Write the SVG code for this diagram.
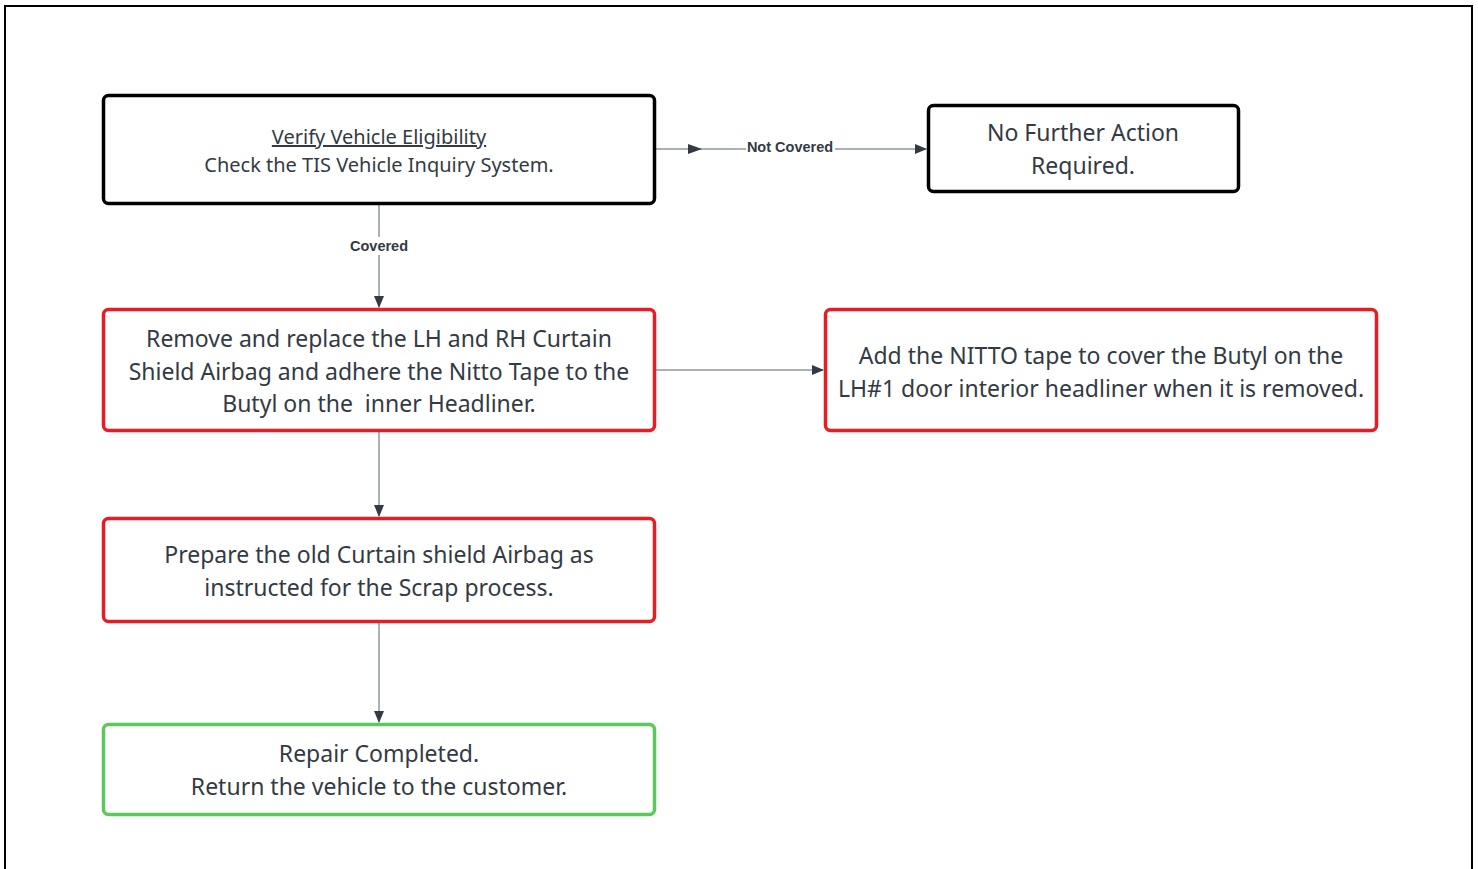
<svg xmlns="http://www.w3.org/2000/svg" width="1478" height="869" viewBox="0 0 1478 869">
<defs>
<style>
.node rect{fill:#fff;stroke-width:3.5}
.blk{stroke:#000}
.red{stroke:#e81c24}
.grn{stroke:#5cc85c}
.t{font-family:"Noto Sans","Open Sans",sans-serif;fill:#333a44;text-anchor:middle;font-size:23px}
.s{font-size:20px}
.lbl{font-family:"Liberation Sans",Arial,sans-serif;font-weight:bold;font-size:14.5px;fill:#333a44;text-anchor:middle}
.c{stroke:#9096a0;stroke-width:1.5;fill:none}
</style>
<marker id="ah" viewBox="0 0 12 10" refX="11" refY="5" markerWidth="12" markerHeight="10" markerUnits="userSpaceOnUse" orient="auto">
<path d="M0,0 L12,5 L0,10 Z" fill="#333a44"/>
</marker>
</defs>
<rect width="1478" height="869" fill="#fff"/>
<path d="M5,869 V6 H1472 V869" fill="none" stroke="#000" stroke-width="2"/>
<g id="connectors">
<line class="c" x1="655" y1="149" x2="926" y2="149" marker-end="url(#ah)"/>
<path d="M688,144 L702,149 L688,154 Z" fill="#333a44"/>
<rect x="746" y="139" width="89" height="16" fill="#fff"/>
<text class="lbl" x="790" y="152">Not Covered</text>
<line class="c" x1="379" y1="204" x2="379" y2="307" marker-end="url(#ah)"/>
<rect x="347" y="237" width="64" height="18" fill="#fff"/>
<text class="lbl" x="379" y="251">Covered</text>
<line class="c" x1="655" y1="370" x2="823" y2="370" marker-end="url(#ah)"/>
<line class="c" x1="379" y1="431" x2="379" y2="516" marker-end="url(#ah)"/>
<line class="c" x1="379" y1="622" x2="379" y2="722" marker-end="url(#ah)"/>
</g>
<g id="verify" class="node">
<rect class="blk" x="103.5" y="95.5" width="551" height="108" rx="5"/>
<text class="t s" x="379" y="144" text-decoration="underline">Verify Vehicle Eligibility</text>
<text class="t s" x="379" y="172">Check the TIS Vehicle Inquiry System.</text>
</g>
<g id="no-action" class="node">
<rect class="blk" x="928.5" y="105.5" width="310" height="86" rx="5"/>
<text class="t" x="1083" y="141">No Further Action</text>
<text class="t" x="1083" y="174">Required.</text>
</g>
<g id="remove" class="node">
<rect class="red" x="103.5" y="309.5" width="551" height="121" rx="5"/>
<text class="t" x="379" y="347">Remove and replace the LH and RH Curtain</text>
<text class="t" x="379" y="380">Shield Airbag and adhere the Nitto Tape to the</text>
<text class="t" x="379" y="412" xml:space="preserve">Butyl on the  inner Headliner.</text>
</g>
<g id="add-nitto" class="node">
<rect class="red" x="825.5" y="309.5" width="551" height="121" rx="5"/>
<text class="t" x="1101" y="364">Add the NITTO tape to cover the Butyl on the</text>
<text class="t" x="1101" y="397">LH#1 door interior headliner when it is removed.</text>
</g>
<g id="prepare" class="node">
<rect class="red" x="103.5" y="518.5" width="551" height="103" rx="5"/>
<text class="t" x="379" y="563">Prepare the old Curtain shield Airbag as</text>
<text class="t" x="379" y="596">instructed for the Scrap process.</text>
</g>
<g id="repair" class="node">
<rect class="grn" x="103.5" y="724.5" width="551" height="90" rx="5"/>
<text class="t" x="379" y="762">Repair Completed.</text>
<text class="t" x="379" y="795">Return the vehicle to the customer.</text>
</g>
</svg>
